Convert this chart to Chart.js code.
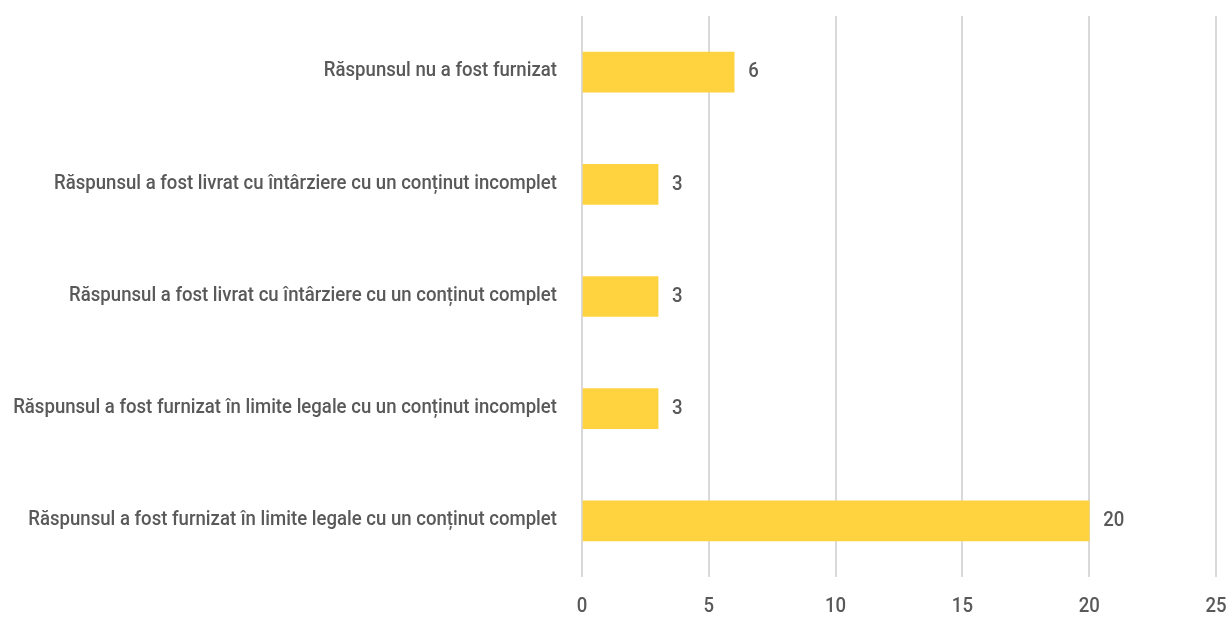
<!DOCTYPE html>
<html>
<head>
<meta charset="utf-8">
<script src="https://cdn.jsdelivr.net/npm/chart.js@4/dist/chart.umd.min.js"></script>
<style>
  html, body { margin: 0; padding: 0; background: #ffffff; }
  #wrap { width: 1226px; height: 617px; position: relative; }
</style>
</head>
<body>
<div id="wrap"><canvas id="c"></canvas></div>
<script>
const categories = [
  "Răspunsul nu a fost furnizat",
  "Răspunsul a fost livrat cu întârziere cu un conținut incomplet",
  "Răspunsul a fost livrat cu întârziere cu un conținut complet",
  "Răspunsul a fost furnizat în limite legale cu un conținut incomplet",
  "Răspunsul a fost furnizat în limite legale cu un conținut complet"
];
const values = [6, 3, 3, 3, 20];
const xTicks = [0, 5, 10, 15, 20, 25];

const FONT = "500 21px Roboto, 'Liberation Sans', sans-serif";
const TEXT = '#595959';
const SX = 0.885;

function drawText(ctx, text, x, y, align) {
  ctx.save();
  ctx.translate(x, y);
  ctx.scale(SX, 1);
  ctx.textAlign = align;
  ctx.fillText(text, 0, 0);
  ctx.restore();
}

const textPlugin = {
  id: 'textPlugin',
  afterDraw(chart) {
    const ctx = chart.ctx;
    const xs = chart.scales.x, ys = chart.scales.y;
    const area = chart.chartArea;
    ctx.save();
    ctx.font = FONT;
    ctx.fillStyle = TEXT;
    ctx.textBaseline = 'middle';
    chart.data.labels.forEach((lab, i) => {
      drawText(ctx, lab, area.left - 25, ys.getPixelForTick(i) - 1, 'right');
    });
    xs.ticks.forEach(t => {
      drawText(ctx, String(t.value), xs.getPixelForValue(t.value), area.bottom + 30, 'center');
    });
    const meta = chart.getDatasetMeta(0);
    meta.data.forEach((bar, i) => {
      drawText(ctx, String(chart.data.datasets[0].data[i]), bar.x + 14, bar.y, 'left');
    });
    ctx.restore();
  }
};

new Chart(document.getElementById('c'), {
  type: 'bar',
  data: {
    labels: categories,
    datasets: [{
      data: values,
      backgroundColor: '#FFD23F',
      borderWidth: 0,
      barThickness: 40
    }]
  },
  options: {
    indexAxis: 'y',
    responsive: true,
    maintainAspectRatio: false,
    animation: false,
    layout: { padding: { top: 16, right: 10, left: 0, bottom: 0 } },
    plugins: { legend: { display: false }, tooltip: { enabled: false } },
    scales: {
      x: {
        min: 0, max: 25,
        afterBuildTicks(scale) { scale.ticks = xTicks.map(v => ({ value: v })); },
        afterFit(scale) { scale.height = 40; scale.paddingLeft = 0; scale.paddingRight = 0; },
        grid: { color: '#d9d9d9', lineWidth: 2, drawTicks: false },
        border: { display: false },
        ticks: { display: false }
      },
      y: {
        afterFit(scale) { scale.width = 582; scale.paddingTop = 0; scale.paddingBottom = 0; },
        grid: { display: false, drawTicks: false },
        border: { display: false },
        ticks: { display: false }
      }
    }
  },
  plugins: [textPlugin]
});
</script>
</body>
</html>
